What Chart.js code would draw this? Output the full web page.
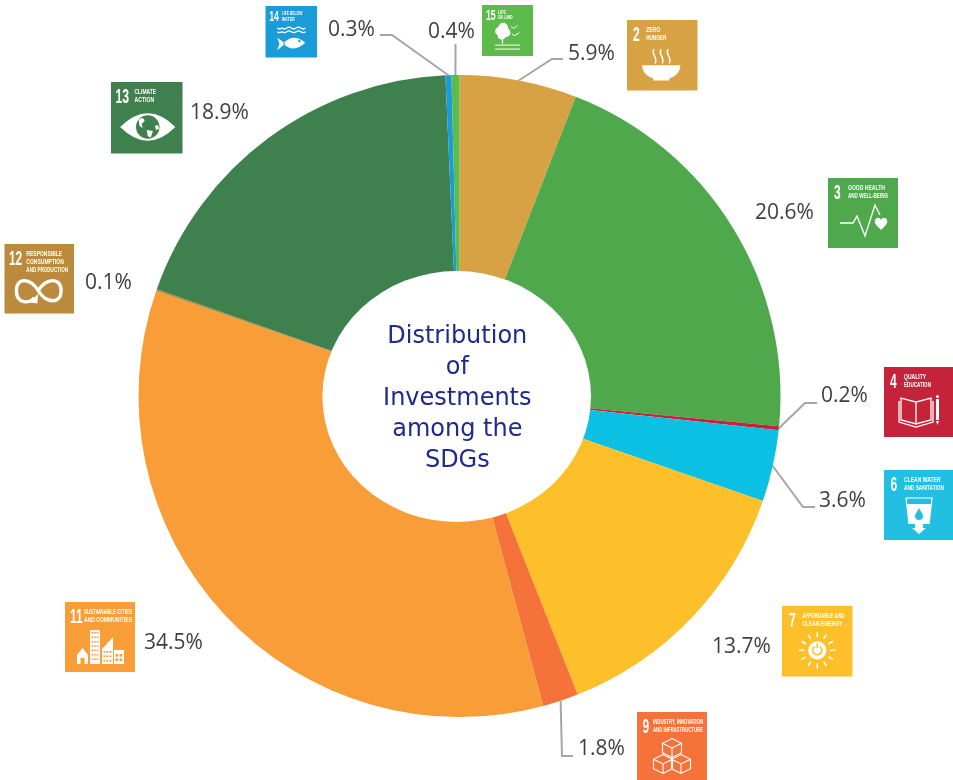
<!DOCTYPE html>
<html>
<head>
<meta charset="utf-8">
<title>Distribution of Investments among the SDGs</title>
<style>
  html, body { margin: 0; padding: 0; background: #fff; }
  canvas { display: block; }
</style>
<script src="https://cdn.jsdelivr.net/npm/chart.js@4/dist/chart.umd.min.js"></script>
</head>
<body>
<canvas id="sdgChart" width="953" height="780"></canvas>
<script>
// Share of investment per Sustainable Development Goal, clockwise from 12 o'clock.
const goalNumbers = ['2', '3', '4', '6', '7', '9', '11', '12', '13', '14', '15'];
const goalCaptions = [
  ['ZERO', 'HUNGER'],
  ['GOOD HEALTH', 'AND WELL-BEING'],
  ['QUALITY', 'EDUCATION'],
  ['CLEAN WATER', 'AND SANITATION'],
  ['AFFORDABLE AND', 'CLEAN ENERGY'],
  ['INDUSTRY, INNOVATION', 'AND INFRASTRUCTURE'],
  ['SUSTAINABLE CITIES', 'AND COMMUNITIES'],
  ['RESPONSIBLE', 'CONSUMPTION', 'AND PRODUCTION'],
  ['CLIMATE', 'ACTION'],
  ['LIFE BELOW', 'WATER'],
  ['LIFE', 'ON LAND']
];
const investmentShare = [5.9, 20.6, 0.2, 3.6, 13.7, 1.8, 34.5, 0.1, 18.9, 0.3, 0.4];
const sliceColors = ['#D7A244', '#4FA84B', '#C5233A', '#0CC0E4', '#FEC02A', '#F5733A', '#F99D39', '#BB8A3C', '#3F814E', '#1A9CD8', '#5CBB4A'];
const tileColors = ['#D7A244', '#4FA84B', '#C5233A', '#21BFE2', '#FEC02A', '#F5733A', '#F99D39', '#BB8A3C', '#3F814E', '#1A9CD8', '#5CBB4A'];
const centerTitle = ['Distribution', 'of', 'Investments', 'among the', 'SDGs'];

// White ellipse laid over the middle of the ring, holding the title.
const holeShape = { cx: 456.7, cy: 396.5, rx: 134.3, ry: 125.5 };

// Value label placement: left edge and vertical centre of each percentage.
const labelSpots = [
  [568, 54], [755, 213], [821, 396], [819, 501], [712, 647], [578, 749],
  [144, 643], [85, 283], [190, 113], [328, 30], [428, 32]
];
// Leader lines: first point next to the label, then the elbow; the last point is the slice edge.
const leaderPaths = {
  0: [[563, 59], [552, 59]],
  2: [[817, 403], [805, 403]],
  3: [[815, 507], [803, 507]],
  5: [[573, 756], [562, 756]],
  9: [[380, 35], [392, 35]],
  10: [[455.5, 44]]
};
// Goal tile placement: x, y, size.
const tileBoxes = [
  [627, 20, 70.5], [828, 178, 70], [884, 367, 70], [884, 470, 70], [782, 606, 70.5], [637, 712, 70],
  [65, 602, 70], [4.5, 244, 69.5], [111, 82, 71.5], [265.5, 6, 51.5], [482, 5, 51]
];
// Number x, caption x and widest caption line in a 70-unit tile.
const tileText = [
  [6, 19, 20], [6, 20, 40], [6, 20, 27], [6.5, 20, 40], [7, 20, 42], [5.5, 16, 50],
  [5, 19, 48], [4.5, 22, 42], [4.3, 23, 21], [5, 22, 28], [5.5, 22, 20]
];

const W = '#fff';

// Condensed lettering: squeezes the regular bold face horizontally.
function narrowText(c, text, x, y, squeeze, maxWidth) {
  c.save();
  c.translate(x, y);
  c.scale(squeeze, 1);
  if (maxWidth) c.fillText(text, 0, 0, maxWidth / squeeze);
  else c.fillText(text, 0, 0);
  c.restore();
}
function strokeLine(c, pts, lw) {
  c.lineWidth = lw || 1.5;
  c.beginPath();
  pts.forEach((p, i) => i ? c.lineTo(p[0], p[1]) : c.moveTo(p[0], p[1]));
  c.stroke();
}
function fillPoly(c, pts) {
  c.beginPath();
  pts.forEach((p, i) => i ? c.lineTo(p[0], p[1]) : c.moveTo(p[0], p[1]));
  c.closePath();
  c.fill();
}
function box(c, x, y, w, h) { c.fillRect(x, y, w, h); }
function windows(c, bg, x0, y0, cols, rows, dx, dy, s) {
  c.fillStyle = bg;
  for (let i = 0; i < cols; i++) for (let j = 0; j < rows; j++) c.fillRect(x0 + i * dx, y0 + j * dy, s, s);
  c.fillStyle = W;
}

// Pictograms drawn in a 70-unit tile; each receives the tile colour for cut-outs.
const pictograms = [
  // bowl with steam
  (c) => {
    c.lineWidth = 1.5;
    [28, 35, 42].forEach(x => {
      c.beginPath();
      c.moveTo(x - 1, 29);
      c.bezierCurveTo(x - 5, 33, x + 3, 37, x, 43);
      c.stroke();
    });
    c.beginPath();
    c.moveTo(15, 45); c.lineTo(53, 45);
    c.bezierCurveTo(53, 53, 46, 57, 42, 58);
    c.lineTo(42, 60); c.lineTo(26, 60); c.lineTo(26, 58);
    c.bezierCurveTo(22, 57, 15, 53, 15, 45);
    c.fill();
  },
  // heartbeat with heart
  (c) => {
    strokeLine(c, [[12, 45], [25, 45], [29, 38], [37, 58], [47, 27], [52, 37]], 1.4);
    c.beginPath();
    c.moveTo(53, 52);
    c.bezierCurveTo(48, 47, 46, 45, 47, 42);
    c.bezierCurveTo(48, 39, 52, 39, 53, 42);
    c.bezierCurveTo(54, 39, 58, 39, 59, 42);
    c.bezierCurveTo(60, 45, 58, 47, 53, 52);
    c.fill();
  },
  // open book and pencil
  (c) => {
    c.lineWidth = 1.3;
    c.beginPath();
    c.moveTo(32, 35); c.lineTo(32, 57); c.lineTo(17, 53); c.lineTo(17, 31); c.closePath();
    c.moveTo(32, 35); c.lineTo(32, 57); c.lineTo(47, 53); c.lineTo(47, 31); c.closePath();
    c.moveTo(15, 34); c.lineTo(15, 55); c.lineTo(32, 60); c.lineTo(49, 55); c.lineTo(49, 34);
    c.stroke();
    c.fillRect(52, 32, 3, 21);
    fillPoly(c, [[52, 54], [55, 54], [53.5, 58]]);
    c.beginPath(); c.arc(53.5, 29.5, 1.5, 0, Math.PI * 2); c.fill();
  },
  // glass with water drop and tap arrow
  (c, bg) => {
    c.lineWidth = 1.2;
    strokeLine(c, [[22, 28], [48, 28], [45, 54]], 1.2);
    strokeLine(c, [[22, 28], [25, 54]], 1.2);
    fillPoly(c, [[23, 34], [47, 34], [45, 54], [25, 54]]);
    fillPoly(c, [[31, 54], [39, 54], [39, 58], [42, 58], [35, 64], [28, 58], [31, 58]]);
    c.fillStyle = bg;
    c.beginPath();
    c.moveTo(35, 38);
    c.bezierCurveTo(37, 42, 39, 44, 39, 46);
    c.arc(35, 46, 4, 0, Math.PI);
    c.bezierCurveTo(31, 44, 33, 42, 35, 38);
    c.fill();
  },
  // sun with power symbol
  (c, bg) => {
    const cx = 35, cy = 44;
    c.lineWidth = 1.5;
    for (let i = 0; i < 12; i++) {
      const a = i * Math.PI / 6;
      strokeLine(c, [[cx + 13 * Math.cos(a), cy + 13 * Math.sin(a)], [cx + 18 * Math.cos(a), cy + 18 * Math.sin(a)]], 1.5);
    }
    c.beginPath(); c.arc(cx, cy, 9, 0, Math.PI * 2); c.fill();
    c.strokeStyle = bg;
    c.beginPath(); c.arc(cx, cy, 4.5, -Math.PI * 0.3, Math.PI * 1.3); c.stroke();
    strokeLine(c, [[cx, cy - 7], [cx, cy - 2]], 1.5);
  },
  // stacked cubes
  (c) => {
    const cube = (x, y, r) => {
      c.lineWidth = 1.1;
      c.beginPath();
      c.moveTo(x, y - r); c.lineTo(x + r, y - r / 2); c.lineTo(x + r, y + r / 2);
      c.lineTo(x, y + r); c.lineTo(x - r, y + r / 2); c.lineTo(x - r, y - r / 2); c.closePath();
      c.moveTo(x - r, y - r / 2); c.lineTo(x, y); c.lineTo(x + r, y - r / 2);
      c.moveTo(x, y); c.lineTo(x, y + r);
      c.stroke();
    };
    cube(35, 36, 9.5); cube(26, 52, 9.5); cube(44, 52, 9.5);
  },
  // skyline
  (c, bg) => {
    fillPoly(c, [[12, 53], [17.5, 46], [23, 53], [23, 62], [12, 62]]);
    c.fillStyle = bg; c.fillRect(15.5, 56, 4, 6); c.fillStyle = W;
    box(c, 25, 28, 10, 34);
    windows(c, bg, 26.5, 30, 3, 7, 2.6, 4.4, 1.6);
    fillPoly(c, [[37, 47], [48, 35], [48, 62], [37, 62]]);
    windows(c, bg, 38.5, 49, 3, 3, 3, 4.4, 1.8);
    box(c, 49, 48, 10, 14);
    windows(c, bg, 50.5, 52, 2, 2, 4, 4.4, 2.6);
  },
  // infinity loop with arrow
  (c) => {
    c.lineWidth = 3.4;
    c.beginPath();
    c.moveTo(34, 47);
    c.bezierCurveTo(42, 34, 57, 33, 57, 47);
    c.bezierCurveTo(57, 61, 42, 60, 34, 47);
    c.bezierCurveTo(26, 34, 12, 33, 12, 47);
    c.bezierCurveTo(12, 61, 26, 60, 30, 54);
    c.stroke();
    fillPoly(c, [[34, 50], [33, 60], [25, 59]]);
  },
  // eye with globe
  (c, bg) => {
    c.beginPath();
    c.moveTo(9, 44);
    c.quadraticCurveTo(36, 17, 63, 44);
    c.quadraticCurveTo(36, 71, 9, 44);
    c.fill();
    c.fillStyle = bg;
    c.beginPath(); c.arc(36, 44, 11.5, 0, Math.PI * 2); c.fill();
    c.fillStyle = W;
    fillPoly(c, [[27, 37], [31, 35], [33, 38], [30, 41], [31, 45], [28, 43]]);
    fillPoly(c, [[35, 47], [41, 48], [39, 54], [36, 53]]);
    fillPoly(c, [[43, 43], [46, 42], [47, 46], [44, 47]]);
  },
  // waves and fish
  (c, bg) => {
    c.lineWidth = 1.8;
    [30, 35].forEach(y => {
      c.beginPath();
      c.moveTo(16, y);
      for (let x = 16; x < 54; x += 6.4) c.quadraticCurveTo(x + 3.2, y + (((x - 16) / 6.4) % 2 < 1 ? 2.4 : -2.4), x + 6.4, y);
      c.stroke();
    });
    c.beginPath();
    c.moveTo(24, 51);
    c.quadraticCurveTo(38, 36, 54, 50);
    c.quadraticCurveTo(38, 65, 24, 51);
    c.moveTo(27, 51); c.lineTo(16, 43); c.lineTo(19, 51); c.lineTo(16, 60); c.closePath();
    c.fill();
    c.fillStyle = bg;
    c.beginPath(); c.arc(46, 47.5, 1.6, 0, Math.PI * 2); c.fill();
  },
  // tree, birds and ground
  (c) => {
    c.beginPath();
    c.arc(24, 36, 6, 0, Math.PI * 2);
    c.arc(29, 31, 6.5, 0, Math.PI * 2);
    c.arc(33, 38, 6, 0, Math.PI * 2);
    c.arc(27, 42, 5.5, 0, Math.PI * 2);
    c.fill();
    c.fillRect(27.2, 40, 1.8, 13);
    strokeLine(c, [[18, 55], [52, 55]], 1.4);
    strokeLine(c, [[18, 60.5], [52, 60.5]], 1.4);
    strokeLine(c, [[40, 30], [44, 32], [49, 28]], 1.3);
    strokeLine(c, [[41, 40], [45, 42], [51, 38]], 1.3);
  }
];

// Draws the hole, goal tiles, value labels, leader lines and the title.
const sdgAnnotations = {
  id: 'sdgAnnotations',
  afterDatasetsDraw(chart) {
    const c = chart.ctx;
    const arcs = chart.getDatasetMeta(0).data;

    c.save();
    c.fillStyle = W;
    c.beginPath();
    c.ellipse(holeShape.cx, holeShape.cy, holeShape.rx, holeShape.ry, 0, 0, Math.PI * 2);
    c.fill();

    goalNumbers.forEach((num, i) => {
      const [tx, ty, size] = tileBoxes[i];
      const [numX, capX, capW] = tileText[i];
      const k = size / 70;
      c.save();
      c.translate(tx, ty);
      c.fillStyle = tileColors[i];
      c.fillRect(0, 0, size, size);
      c.scale(k, k);
      c.fillStyle = W;
      c.textBaseline = 'alphabetic';
      c.textAlign = 'left';
      c.font = 'bold 20px "Liberation Sans"';
      narrowText(c, num, numX, 21, 0.6);
      c.font = 'bold 7px "Liberation Sans"';
      goalCaptions[i].forEach((t, j) => narrowText(c, t, capX, 11.7 + j * 8.2, 0.72, capW));
      c.strokeStyle = W;
      c.fillStyle = W;
      pictograms[i](c, tileColors[i]);
      c.restore();
    });

    // Leader lines end on the outer edge of each thin slice, at its middle angle.
    c.strokeStyle = '#A6A6A6';
    Object.keys(leaderPaths).forEach(key => {
      const arc = arcs[key].getProps(['x', 'y', 'startAngle', 'endAngle', 'outerRadius'], true);
      const mid = (arc.startAngle + arc.endAngle) / 2;
      const pts = leaderPaths[key].concat([[arc.x + arc.outerRadius * Math.cos(mid), arc.y + arc.outerRadius * Math.sin(mid)]]);
      strokeLine(c, pts, 2);
    });

    c.fillStyle = '#404040';
    c.font = '21px "Open Sans"';
    c.textAlign = 'left';
    c.textBaseline = 'middle';
    investmentShare.forEach((v, i) => {
      c.fillText(v.toFixed(1) + '%', labelSpots[i][0], labelSpots[i][1]);
    });

    c.fillStyle = '#1F2A8E';
    c.font = '24px "DejaVu Sans"';
    c.textAlign = 'center';
    centerTitle.forEach((t, i) => c.fillText(t, holeShape.cx + 0.6, holeShape.cy + (i - 2) * 31 + 2));
    c.restore();
  }
};

new Chart(document.getElementById('sdgChart'), {
  type: 'doughnut',
  data: {
    labels: goalNumbers.map(n => 'SDG ' + n),
    datasets: [{
      data: investmentShare,
      backgroundColor: sliceColors,
      borderWidth: 0
    }]
  },
  options: {
    responsive: false,
    animation: false,
    cutout: '30%',
    layout: { padding: { left: 138.5, right: 172.5, top: 75, bottom: 63 } },
    plugins: { legend: { display: false }, tooltip: { enabled: false }, title: { display: false } }
  },
  plugins: [sdgAnnotations]
});
</script>
</body>
</html>
